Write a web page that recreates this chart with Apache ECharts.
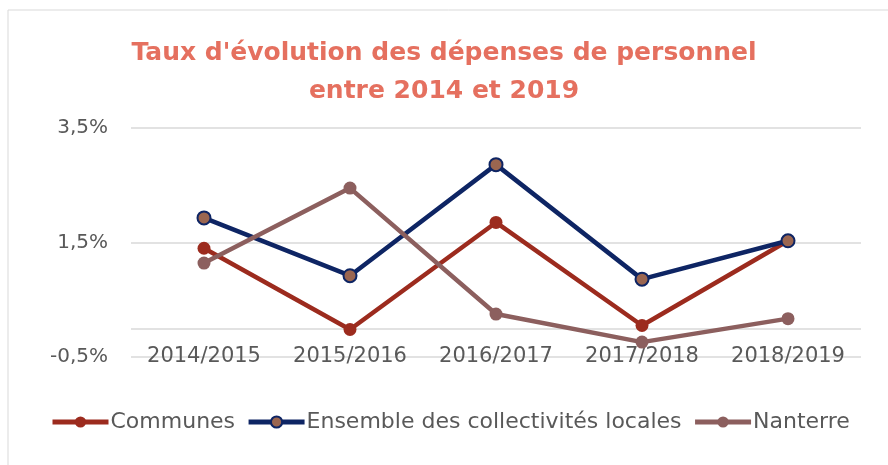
<!DOCTYPE html>
<html><head><meta charset="utf-8">
<script src="https://cdn.jsdelivr.net/npm/echarts@6/dist/echarts.min.js"></script>
<style>html,body{margin:0;padding:0;background:#fff}#c{width:888px;height:465px}</style>
</head><body><div id="c"></div>
<script>
const categories = ['2014/2015','2015/2016','2016/2017','2017/2018','2018/2019'];
const communes = [1.40, -0.02, 1.85, 0.05, 1.53];
const ensemble = [1.93, 0.92, 2.86, 0.86, 1.53];
const nanterre = [1.14, 2.45, 0.25, -0.24, 0.17];
const yLabelTicks = [-0.5, 1.5, 3.5];
const gridValues = [-0.5, 0, 1.5, 3.5];

const chart = echarts.init(document.getElementById('c'), null, {renderer:'canvas'});
const fontFam = 'DejaVu Sans';
const fmt = v => (Math.round(v*10)/10).toFixed(1).replace('.', ',') + '%';

chart.setOption({
  animation:false,
  backgroundColor:'#fff',
  graphic:[{type:'rect', shape:{x:8,y:10,width:900,height:480}, style:{fill:'none', stroke:'#d9d9d9', lineWidth:1}, z:-1}],
  title:{
    text:"Taux d'évolution des dépenses de personnel\nentre 2014 et 2019",
    left:'center', top:29,
    textStyle:{fontFamily:fontFam, fontSize:25, fontWeight:'bold', color:'#E5705F', lineHeight:38}
  },
  legend:{
    top:406, left:45,
    itemWidth:56, itemHeight:14, itemGap:11,
    lineStyle:{width:5},
    textStyle:{fontFamily:fontFam, fontSize:22, color:'#595959', padding:[0,0,0,-3]},
    data:['Communes','Ensemble des collectivités locales','Nanterre']
  },
  grid:{left:131, right:27, top:128, bottom:108, containLabel:false},
  xAxis:{
    type:'category', data:categories, boundaryGap:true,
    axisLine:{show:false, onZero:false}, axisTick:{show:false},
    axisLabel:{fontFamily:fontFam, fontSize:21, color:'#595959', margin:0, verticalAlign:'middle', interval:0, hideOverlap:false}
  },
  yAxis:{
    type:'value', min:-0.5, max:3.5, interval:0.5,
    axisLine:{show:false}, axisTick:{show:false}, splitLine:{show:false},
    axisLabel:{fontFamily:fontFam, fontSize:20, color:'#595959', margin:23,
      formatter: v => yLabelTicks.some(t => Math.abs(t - v) < 1e-6) ? fmt(v) : ''}
  },
  series:[
    {
      name:'Communes', type:'line', data:communes,
      symbol:'circle', symbolSize:13,
      lineStyle:{color:'#9C2B1E', width:4.5},
      itemStyle:{color:'#9C2B1E'},
      markLine:{silent:true, symbol:['none','none'], label:{show:false},
        lineStyle:{color:'#d9d9d9', width:1.5, type:'solid'},
        data: gridValues.map(v => ({yAxis:v})), z:-1}
    },
    {
      name:'Ensemble des collectivités locales', type:'line', data:ensemble,
      symbol:'circle', symbolSize:13,
      lineStyle:{color:'#0E2564', width:4.5},
      itemStyle:{color:'#9B6650', borderColor:'#0E2564', borderWidth:2}
    },
    {
      name:'Nanterre', type:'line', data:nanterre,
      symbol:'circle', symbolSize:13,
      lineStyle:{color:'#8C5F5E', width:4.5},
      itemStyle:{color:'#8C5F5E'}
    }
  ]
});
</script></body></html>
